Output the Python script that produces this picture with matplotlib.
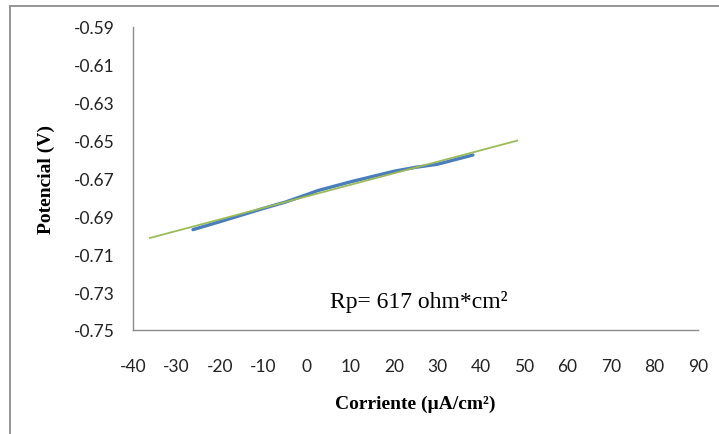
import numpy as np
import matplotlib
matplotlib.use("Agg")
import matplotlib.pyplot as plt
from matplotlib.patches import Rectangle

plt.rcParams["axes.unicode_minus"] = False

# measured polarization data (current density vs potential)
corriente = [-26.2, -20, -10, -5, 0, 2.5, 10, 20, 25, 30, 38.2]
potencial = [-0.697, -0.6928, -0.6858, -0.6825, -0.6785, -0.6764, -0.6718,
             -0.6662, -0.6641, -0.6625, -0.6576]

# linear trendline end points
trend_x = [-36.1, 48.4]
trend_y = [-0.7014, -0.6500]

x_ticks = list(range(-40, 91, 10))
y_ticks = [-0.75, -0.73, -0.71, -0.69, -0.67, -0.65, -0.63, -0.61, -0.59]

rp_text = "Rp= 617 ohm*cm\u00b2"

fig = plt.figure(figsize=(7.19, 4.35), dpi=100)
ax = fig.add_axes([133 / 719, 1 - 331 / 435, 565 / 719, 303 / 435])

# outer chart frame (clipped on right and bottom like the original)
fig.patches.append(Rectangle((10 / 719, -0.2), 1.2, 1.2 - 7 / 435,
                             transform=fig.transFigure, fill=False,
                             edgecolor="#8c8c8c", linewidth=1.3))

ax.plot(corriente, potencial, color="#4a7ebb", linewidth=2.4,
        solid_capstyle="round", solid_joinstyle="round", zorder=2)
ax.plot(trend_x, trend_y, color="#9bbb59", linewidth=1.3, zorder=3)

ax.set_xlim(-40, 90)
ax.set_ylim(-0.75, -0.59)
ax.set_xticks(x_ticks)
ax.set_yticks(y_ticks)
ax.set_yticklabels([f"{v:.2f}" for v in y_ticks])

for side in ["top", "right"]:
    ax.spines[side].set_visible(False)
for side in ["left", "bottom"]:
    ax.spines[side].set_color("#8c8c8c")
    ax.spines[side].set_linewidth(1.0)

ax.tick_params(axis="x", length=0, pad=20, labelsize=12.5, labelcolor="#222222")
ax.tick_params(axis="y", length=0, pad=13, labelsize=12.5, labelcolor="#222222")
for lbl in ax.get_xticklabels() + ax.get_yticklabels():
    lbl.set_fontfamily("Lato")

ax.set_xlabel("Corriente (\u00b5A/cm\u00b2)", fontfamily="Liberation Serif",
              fontweight="bold", fontsize=14)
ax.set_ylabel("Potencial (V)", fontfamily="Liberation Serif",
              fontweight="bold", fontsize=14)
ax.xaxis.set_label_coords(0.5, -0.215)
ax.yaxis.set_label_coords(-0.138, 0.5)

ax.text((419 - 133) / 565, (331 - 302) / 303, rp_text, transform=ax.transAxes,
        ha="center", va="center", fontfamily="Liberation Serif", fontsize=17)

fig.savefig("out.png", dpi=100)
